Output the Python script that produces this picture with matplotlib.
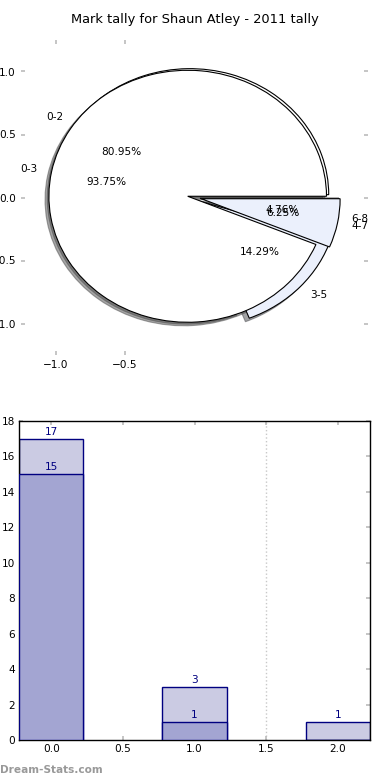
import matplotlib
matplotlib.use("Agg")
import matplotlib.pyplot as plt

# ---- data ----
title = "Mark tally for Shaun Atley - 2011 tally"
pie1_labels = ["0-2", "3-5", "6-8"]
pie1_values = [17, 3, 1]
pie2_labels = ["0-3", "4-7"]
pie2_values = [15, 1]

bar_positions = [0, 1, 2]
bar_light = [17, 3, 1]
bar_dark = [15, 1, 0]

pie_xticks = [-1.0, -0.5]
pie_yticks = [-1.0, -0.5, 0.0, 0.5, 1.0]
bar_yticks = [0, 2, 4, 6, 8, 10, 12, 14, 16, 18]
bar_xticks = [0.0, 0.5, 1.0, 1.5, 2.0]

FS = 7.6
WHITE = "#ffffff"
LBLUE = "#ebf0fc"
LIGHT = "#cbcbe3"
DARK = "#a3a5d2"
NAVY = "#000080"
TICKC = "#bbbbbb"

fig = plt.figure(figsize=(3.9, 7.8), dpi=100)

# ---------------- pie axes ----------------
ax1 = fig.add_axes([21 / 390, 425 / 780, 347 / 390, 315 / 780])
wp = dict(edgecolor="black", linewidth=0.8)
ax1.pie(pie1_values, labels=pie1_labels, autopct="%1.2f%%", explode=[0.04] * 3,
        colors=[WHITE, LBLUE, LBLUE], shadow=True, startangle=0,
        pctdistance=0.6, labeldistance=1.1, wedgeprops=wp,
        textprops=dict(fontsize=FS))
ax1.pie(pie2_values, labels=pie2_labels, autopct="%1.2f%%", explode=[0.05] * 2,
        colors=[WHITE, LBLUE], shadow=True, startangle=0,
        pctdistance=0.6, labeldistance=1.1, wedgeprops=wp,
        textprops=dict(fontsize=FS))
ax1.set_aspect("auto")
ax1.set_xlim(-1.25, 1.25)
ax1.set_ylim(-1.25, 1.25)
ax1.set_frame_on(False)
ax1.set_xticks(pie_xticks)
ax1.set_yticks(pie_yticks)
ax1.tick_params(direction="in", length=3, width=1.2, color=TICKC,
                labelsize=FS, top=True, right=True, pad=3.6)
ax1.set_title(title, fontsize=9.4, pad=12)

# ---------------- bar axes ----------------
ax2 = fig.add_axes([19 / 390, 40 / 780, 351 / 390, 319 / 780])
b1 = ax2.bar(bar_positions, bar_light, width=0.45, color=LIGHT,
             edgecolor=NAVY, linewidth=1.0, zorder=2)
b2 = ax2.bar(bar_positions, bar_dark, width=0.45, color=DARK,
             edgecolor=NAVY, linewidth=1.0, zorder=3)
for bars, vals in ((b1, bar_light), (b2, bar_dark)):
    for rect, v in zip(bars, vals):
        if v > 0:
            ax2.annotate(str(v), (rect.get_x() + rect.get_width() / 2, v),
                         xytext=(0, 1.5), textcoords="offset points",
                         ha="center", va="bottom", color=NAVY, fontsize=FS,
                         zorder=4)
ax2.axvline(1.5, color="#c8c8c8", linestyle=":", linewidth=1.0, zorder=1)
ax2.set_xlim(-0.225, 2.225)
ax2.set_ylim(0, 18)
ax2.set_xticks(bar_xticks)
ax2.set_yticks(bar_yticks)
ax2.tick_params(direction="in", length=3, width=1.2, color=TICKC,
                labelsize=FS, top=True, right=True, pad=3)
for s in ax2.spines.values():
    s.set_linewidth(1.0)
    s.set_color("black")

fig.text(0.0, 10 / 780, "Dream-Stats.com", fontsize=7.6, fontweight="bold",
         color="#999999", ha="left", va="center")

fig.savefig("out.png", dpi=100)
